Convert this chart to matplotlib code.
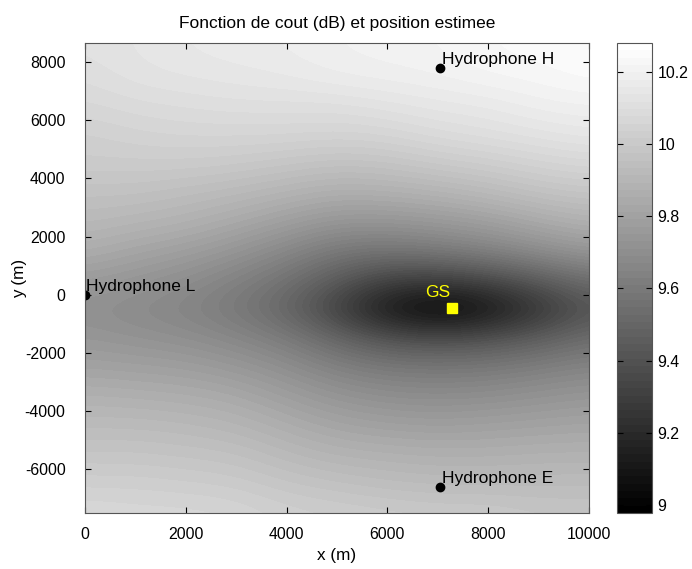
import numpy as np
import matplotlib
matplotlib.use("Agg")
import matplotlib.pyplot as plt

plt.rcParams['font.family'] = ['Liberation Sans', 'DejaVu Sans']
plt.rcParams['axes.unicode_minus'] = False

# cost grid (dB)
x_nodes = [0, 1000, 2000, 3000, 4000, 5000, 6000, 7000, 8000, 9000, 10000]
y_nodes = [8500, 7500, 6500, 5500, 4500, 3500, 2500, 1500, 500, -500,
           -1500, -2500, -3500, -4500, -5500, -6500, -7500]
cost_db = [
    [10.12, 10.14, 10.16, 10.17, 10.18, 10.20, 10.21, 10.22, 10.24, 10.25, 10.26],
    [10.10, 10.13, 10.14, 10.15, 10.16, 10.18, 10.19, 10.20, 10.22, 10.23, 10.25],
    [10.07, 10.09, 10.10, 10.11, 10.11, 10.11, 10.13, 10.15, 10.16, 10.19, 10.20],
    [10.03, 10.05, 10.06, 10.06, 10.06, 10.05, 10.06, 10.09, 10.11, 10.13, 10.15],
    [10.01, 10.01, 10.01, 10.00, 9.98, 9.96, 9.97, 10.00, 10.02, 10.05, 10.07],
    [9.96, 9.96, 9.94, 9.92, 9.89, 9.86, 9.87, 9.89, 9.92, 9.96, 9.98],
    [9.92, 9.90, 9.88, 9.84, 9.79, 9.74, 9.74, 9.76, 9.79, 9.84, 9.88],
    [9.86, 9.82, 9.79, 9.74, 9.67, 9.59, 9.57, 9.60, 9.64, 9.70, 9.75],
    [9.77, 9.74, 9.70, 9.64, 9.56, 9.44, 9.32, 9.30, 9.35, 9.44, 9.54],
    [9.71, 9.68, 9.65, 9.59, 9.49, 9.31, 9.09, 8.98, 9.07, 9.24, 9.40],
    [9.75, 9.73, 9.71, 9.67, 9.61, 9.50, 9.40, 9.37, 9.40, 9.46, 9.54],
    [9.81, 9.80, 9.79, 9.76, 9.71, 9.64, 9.60, 9.59, 9.60, 9.63, 9.66],
    [9.88, 9.87, 9.86, 9.84, 9.79, 9.74, 9.71, 9.70, 9.71, 9.73, 9.75],
    [9.93, 9.93, 9.92, 9.90, 9.86, 9.82, 9.80, 9.79, 9.80, 9.81, 9.82],
    [9.98, 9.98, 9.97, 9.96, 9.92, 9.89, 9.88, 9.87, 9.87, 9.88, 9.88],
    [10.03, 10.03, 10.02, 10.01, 9.98, 9.96, 9.94, 9.93, 9.93, 9.93, 9.93],
    [10.08, 10.07, 10.07, 10.06, 10.03, 10.02, 10.01, 10.00, 10.00, 9.98, 9.98],
]

hydro_names = ['Hydrophone L', 'Hydrophone H', 'Hydrophone E']
hydro_x = [0, 7050, 7050]
hydro_y = [0, 7800, -6600]

gs_x = 7280
gs_y = -450

fig = plt.figure(figsize=(6.92, 5.69), dpi=100)
ax = fig.add_axes([0.1228, 0.0984, 0.7283, 0.826])
cax = fig.add_axes([0.8916, 0.0984, 0.0506, 0.826])

dx = x_nodes[1] - x_nodes[0]
dy = y_nodes[0] - y_nodes[1]
ext = [x_nodes[0] - dx / 2, x_nodes[-1] + dx / 2,
       y_nodes[-1] - dy / 2, y_nodes[0] + dy / 2]
im = ax.imshow(np.array(cost_db), extent=ext, origin='upper', aspect='auto',
               cmap=plt.get_cmap('gray', 64), vmin=8.978, vmax=10.28,
               interpolation='bicubic')
ax.set_xlim(0, 10000)
ax.set_ylim(-7500, 8650)

ax.plot(hydro_x, hydro_y, 'o', color='black', markersize=6)
for name, hx, hy in zip(hydro_names, hydro_x, hydro_y):
    ax.text(hx + 30, hy + 300, name, fontsize=12.5, ha='left', va='center')

ax.plot([gs_x], [gs_y], 's', color='yellow', markersize=7.5)
ax.text(gs_x - 540, gs_y + 520, 'GS', color='yellow', fontsize=12.5,
        ha='left', va='center')

ax.set_xticks([0, 2000, 4000, 6000, 8000, 10000])
ax.set_yticks([-6000, -4000, -2000, 0, 2000, 4000, 6000, 8000])
ax.tick_params(direction='in', length=4, labelsize=11.4, top=True, right=True)
ax.tick_params(axis='x', pad=10)
ax.tick_params(axis='y', pad=14)
for s in ax.spines.values():
    s.set_color('#555555')
    s.set_linewidth(0.8)
ax.set_xlabel('x (m)', fontsize=12.3)
ax.set_ylabel('y (m)', fontsize=12.3)
ax.xaxis.set_label_coords(0.5, -0.074)
ax.yaxis.set_label_coords(-0.115, 0.5)
ax.set_title('Fonction de cout (dB) et position estimee', fontsize=12.5, pad=11)

cb = fig.colorbar(im, cax=cax)
cb.set_ticks([9, 9.2, 9.4, 9.6, 9.8, 10, 10.2])
cb.set_ticklabels(['9', '9.2', '9.4', '9.6', '9.8', '10', '10.2'])
cax.tick_params(direction='in', length=4, labelsize=11.4, left=True, right=True,
                pad=4)
cb.outline.set_edgecolor('#555555')
cb.outline.set_linewidth(0.8)

fig.savefig('out.png', dpi=100)
